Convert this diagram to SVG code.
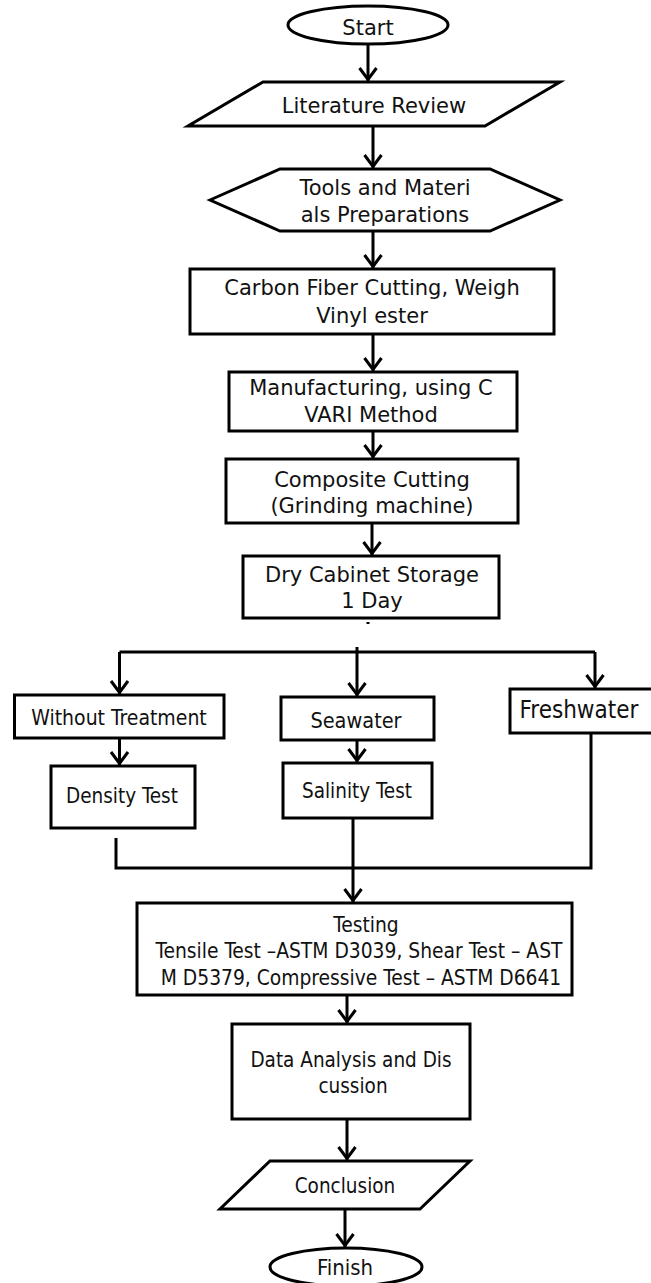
<svg xmlns="http://www.w3.org/2000/svg" width="651" height="1283" viewBox="0 0 651 1283">
<style>
.s{fill:#fff;stroke:#000;stroke-width:3}
.t{font-family:'DejaVu Sans',Verdana,sans-serif;font-size:21px;fill:#111;text-anchor:middle}
.c{font-family:'DejaVu Sans Condensed','DejaVu Sans',sans-serif;font-stretch:condensed;fill:#111;text-anchor:middle}
.k{fill:none;stroke:#000;stroke-width:3}
</style>
<defs>
<marker id="ah" markerUnits="userSpaceOnUse" markerWidth="30" markerHeight="30" viewBox="-15 -15 30 30" refX="0" refY="0" orient="auto" overflow="visible">
<path d="M-14,-8.5 L-2.5,0 L-14,8.5" fill="none" stroke="#000" stroke-width="3"/>
</marker>
</defs>
<rect width="651" height="1283" fill="#fff"/>
<g id="connectors">
<path class="k" d="M368,44 V82" marker-end="url(#ah)"/>
<path class="k" d="M373,127 V169" marker-end="url(#ah)"/>
<path class="k" d="M373,231 V269" marker-end="url(#ah)"/>
<path class="k" d="M373,334 V372" marker-end="url(#ah)"/>
<path class="k" d="M373,431 V459" marker-end="url(#ah)"/>
<path class="k" d="M372,523 V556" marker-end="url(#ah)"/>
<path class="k" d="M368,622 V624" stroke-width="1.5"/>
<path class="k" d="M119.5,652 H595"/>
<path class="k" d="M357,647 V697" marker-end="url(#ah)"/>
<path class="k" d="M119.5,652 V695" marker-end="url(#ah)"/>
<path class="k" d="M595,652 V689" marker-end="url(#ah)"/>
<path class="k" d="M119.5,738 V766" marker-end="url(#ah)"/>
<path class="k" d="M357,740 V763" marker-end="url(#ah)"/>
<path class="k" d="M116,838 V868 H591 V727"/>
<path class="k" d="M353,818 V903" marker-end="url(#ah)"/>
<path class="k" d="M347,995 V1024" marker-end="url(#ah)"/>
<path class="k" d="M347,1112 V1161" marker-end="url(#ah)"/>
<path class="k" d="M345,1200 V1248" marker-end="url(#ah)"/>
</g>
<g id="start">
<ellipse class="s" cx="368" cy="25" rx="80" ry="19"/>
<text class="t" x="368" y="35" font-size="20">Start</text>
</g>
<g id="literature">
<polygon class="s" points="263,82 560,82 485,126 188,126"/>
<text class="t" x="374" y="113">Literature Review</text>
</g>
<g id="tools">
<polygon class="s" points="210,200 280,169 490,169 560,200 490,231 280,231"/>
<text class="t" x="385" y="195">Tools and Materi</text>
<text class="t" x="385" y="222">als Preparations</text>
</g>
<g id="carbon">
<rect class="s" x="190" y="269" width="364" height="65"/>
<text class="t" x="372" y="295" font-size="21.5">Carbon Fiber Cutting, Weigh</text>
<text class="t" x="372" y="323" font-size="21.5">Vinyl ester</text>
</g>
<g id="manufacturing">
<rect class="s" x="229" y="372" width="288" height="59"/>
<text class="t" x="371" y="395">Manufacturing, using C</text>
<text class="t" x="371" y="422">VARI Method</text>
</g>
<g id="composite">
<rect class="s" x="226" y="459" width="292" height="64"/>
<text class="t" x="372" y="487">Composite Cutting</text>
<text class="t" x="372" y="513">(Grinding machine)</text>
</g>
<g id="dry">
<rect class="s" x="243" y="556" width="256" height="62"/>
<text class="t" x="372" y="582">Dry Cabinet Storage</text>
<text class="t" x="372" y="608">1 Day</text>
</g>
<g id="without">
<rect class="s" x="14.5" y="695" width="209.5" height="43"/>
<text class="c" x="119" y="725" font-size="21">Without Treatment</text>
</g>
<g id="seawater">
<rect class="s" x="281" y="697" width="153" height="43"/>
<text class="c" x="356" y="728" font-size="21.5">Seawater</text>
</g>
<g id="freshwater">
<rect class="s" x="510" y="689" width="146" height="44"/>
<text class="c" x="579" y="718" font-size="24">Freshwater</text>
</g>
<g id="density">
<rect class="s" x="51" y="766" width="144" height="62"/>
<text class="c" x="122" y="803" font-size="20.5">Density Test</text>
</g>
<g id="salinity">
<rect class="s" x="283" y="763" width="149" height="55"/>
<text class="c" x="357" y="798" font-size="20.5">Salinity Test</text>
</g>
<g id="testing">
<rect class="s" x="137" y="903" width="435" height="92"/>
<text class="c" x="366" y="932" font-size="20.8">Testing</text>
<text class="c" x="359" y="958" font-size="20.8">Tensile Test –ASTM D3039, Shear Test – AST</text>
<text class="c" x="361" y="985" font-size="20.8">M D5379, Compressive Test – ASTM D6641</text>
</g>
<g id="analysis">
<rect class="s" x="232" y="1024" width="238" height="95"/>
<text class="c" x="351" y="1067" font-size="20.5">Data Analysis and Dis</text>
<text class="c" x="353" y="1093" font-size="20.5">cussion</text>
</g>
<g id="conclusion">
<polygon class="s" points="270,1161 470,1161 420,1209 220,1209"/>
<text class="c" x="345" y="1193" font-size="20.5">Conclusion</text>
</g>
<g id="finish">
<ellipse class="s" cx="346" cy="1267" rx="76" ry="19"/>
<text class="c" x="345" y="1275" font-size="22">Finish</text>
</g>
</svg>
